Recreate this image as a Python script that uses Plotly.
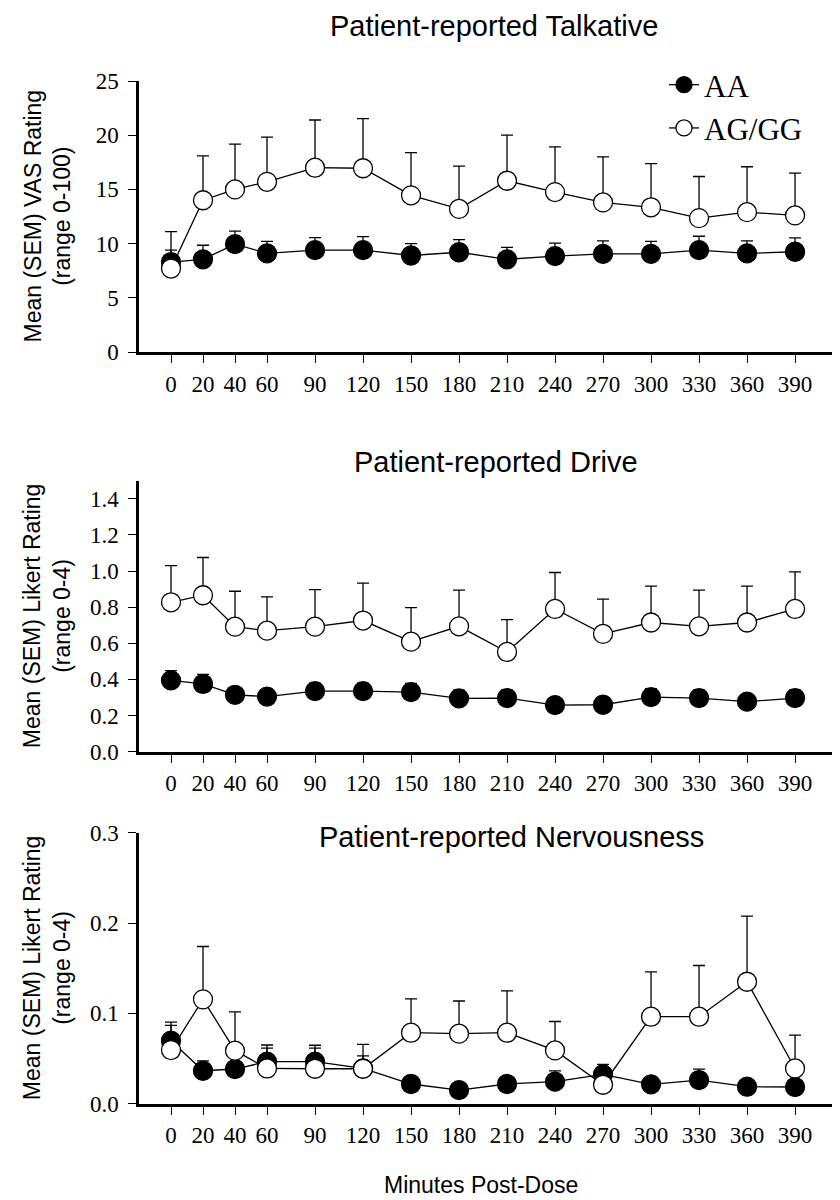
import plotly.graph_objects as go

minutes = [0, 20, 40, 60, 90, 120, 150, 180, 210, 240, 270, 300, 330, 360, 390]
tick_labels = [str(m) for m in minutes]

# Talkative (VAS 0-100)
talk_aa = [8.3, 8.55, 9.95, 9.1, 9.4, 9.4, 8.9, 9.2, 8.55, 8.85, 9.05, 9.05, 9.4, 9.1, 9.25]
talk_aa_sem = [1.1, 1.3, 1.2, 1.1, 1.15, 1.25, 1.1, 1.17, 1.1, 1.2, 1.2, 1.15, 1.28, 1.16, 1.27]
talk_ag = [7.7, 14.0, 15.0, 15.7, 17.0, 16.95, 14.45, 13.2, 15.8, 14.75, 13.8, 13.35, 12.35, 12.9, 12.6]
talk_ag_sem = [3.4, 4.1, 4.17, 4.13, 4.4, 4.57, 3.95, 3.95, 4.2, 4.18, 4.2, 4.02, 3.84, 4.19, 3.9]

# Drive (Likert 0-4)
drive_aa = [0.395, 0.375, 0.315, 0.305, 0.335, 0.335, 0.33, 0.295, 0.297, 0.258, 0.26, 0.302, 0.297, 0.277, 0.297]
drive_aa_sem = [0.054, 0.053, 0.04, 0.04, 0.045, 0.045, 0.048, 0.045, 0.045, 0.04, 0.04, 0.047, 0.045, 0.04, 0.045]
drive_ag = [0.827, 0.866, 0.692, 0.67, 0.692, 0.726, 0.609, 0.694, 0.552, 0.79, 0.652, 0.715, 0.694, 0.715, 0.79]
drive_ag_sem = [0.203, 0.209, 0.196, 0.187, 0.205, 0.207, 0.189, 0.2, 0.179, 0.202, 0.192, 0.201, 0.2, 0.201, 0.205]

# Nervousness (Likert 0-4)
nerv_aa = [0.0697, 0.0365, 0.0384, 0.0465, 0.0465, 0.039, 0.0218, 0.0151, 0.0218, 0.0244, 0.0325, 0.0214, 0.0262, 0.0188, 0.0185]
nerv_aa_sem = [0.017, 0.011, 0.008, 0.015, 0.015, 0.014, 0.006, 0.005, 0.006, 0.012, 0.011, 0.006, 0.012, 0.005, 0.005]
nerv_ag = [0.0594, 0.1155, 0.0587, 0.039, 0.0387, 0.0387, 0.0786, 0.0775, 0.0786, 0.059, 0.021, 0.0963, 0.0963, 0.135, 0.039]
nerv_ag_sem = [0.031, 0.0585, 0.043, 0.026, 0.026, 0.027, 0.0374, 0.0362, 0.0464, 0.032, 0.012, 0.0497, 0.0567, 0.0727, 0.037]

panels = [
    ("Patient-reported Talkative", talk_aa, talk_aa_sem, talk_ag, talk_ag_sem),
    ("Patient-reported Drive", drive_aa, drive_aa_sem, drive_ag, drive_ag_sem),
    ("Patient-reported Nervousness", nerv_aa, nerv_aa_sem, nerv_ag, nerv_ag_sem),
]

# The page body adds an 8px offset, so the figure is 8px smaller and coordinates shift by 8.
OFF = 8
W, H = 840 - OFF, 1200 - OFF
def fx(p):
    return (p - OFF) / W
def fy(p):
    return 1 - (p - OFF) / H

y_domains = [(fy(352), fy(81)), (fy(751.7), fy(480.7)), (fy(1103.7), fy(832.7))]
y_ranges = [[0, 25], [0, 1.5], [0, 0.3]]
y_ticks = [[0, 5, 10, 15, 20, 25], [0, 0.2, 0.4, 0.6, 0.8, 1.0, 1.2, 1.4], [0, 0.1, 0.2, 0.3]]
y_fmt = ["d", ".1f", ".1f"]
y_titles = ["Mean (SEM) VAS Rating<br>(range 0-100)",
            "Mean (SEM) Likert Rating<br>(range 0-4)",
            "Mean (SEM) Likert Rating<br>(range 0-4)"]
title_pos = [(494, 26), (496, 462), (511, 837)]

fig = go.Figure()
LW = 1.3
serif = "Liberation Serif, Times New Roman, serif"
sans = "Liberation Sans, Arial, sans-serif"

for i, (title, aa, aa_sem, ag, ag_sem) in enumerate(panels):
    xa = "x" if i == 0 else f"x{i+1}"
    ya = "y" if i == 0 else f"y{i+1}"
    fig.add_trace(go.Scatter(
        x=minutes, y=aa, name="AA", mode="lines+markers", xaxis=xa, yaxis=ya,
        line=dict(color="black", width=LW),
        marker=dict(size=19, color="black", line=dict(color="black", width=LW)),
        error_y=dict(type="data", array=aa_sem, arrayminus=[0] * len(aa_sem),
                     symmetric=False, color="black", thickness=LW, width=6),
        showlegend=(i == 0), cliponaxis=False,
    ))
    fig.add_trace(go.Scatter(
        x=minutes, y=ag, name="AG/GG", mode="lines+markers", xaxis=xa, yaxis=ya,
        line=dict(color="black", width=LW),
        marker=dict(size=19, color="white", line=dict(color="black", width=LW)),
        error_y=dict(type="data", array=ag_sem, arrayminus=[0] * len(ag_sem),
                     symmetric=False, color="black", thickness=LW, width=6),
        showlegend=(i == 0), cliponaxis=False,
    ))

layout = dict(
    template="none",
    width=W, height=H, margin=dict(l=0, r=0, t=0, b=0, pad=0, autoexpand=False),
    plot_bgcolor="white", paper_bgcolor="white",
    legend=dict(x=fx(664), y=fy(58), xanchor="left", yanchor="top",
                font=dict(family=serif, size=31, color="black"),
                bgcolor="rgba(0,0,0,0)", borderwidth=0),
    annotations=[],
)

for i in range(3):
    xk = "xaxis" if i == 0 else f"xaxis{i+1}"
    yk = "yaxis" if i == 0 else f"yaxis{i+1}"
    ya = "y" if i == 0 else f"y{i+1}"
    xa = "x" if i == 0 else f"x{i+1}"
    layout[xk] = dict(
        domain=[fx(139), 1.0], anchor=ya, range=[-20, 418.1],
        tickmode="array", tickvals=minutes, ticktext=tick_labels,
        ticks="outside", ticklen=8, tickwidth=1, tickcolor="black",
        showline=True, linewidth=3, linecolor="black", showgrid=False, zeroline=False,
        tickfont=dict(family=serif, size=23, color="black"), ticklabelstandoff=1,
        automargin=False,
    )
    layout[yk] = dict(
        domain=list(y_domains[i]), anchor=xa, range=y_ranges[i],
        tickmode="array", tickvals=y_ticks[i], tickformat=y_fmt[i],
        ticks="outside", ticklen=8, tickwidth=1, tickcolor="black",
        showline=True, linewidth=2.5, linecolor="black", showgrid=False, zeroline=False,
        tickfont=dict(family=serif, size=23, color="black"), ticklabelstandoff=5,
        automargin=False,
    )
    tx, ty = title_pos[i]
    layout["annotations"].append(dict(
        text=panels[i][0], x=fx(tx), y=fy(ty), xref="paper", yref="paper",
        xanchor="center", yanchor="middle", showarrow=False,
        font=dict(family=sans, size=29, color="black"),
    ))
    d0, d1 = y_domains[i]
    layout["annotations"].append(dict(
        text=y_titles[i], x=fx(47), y=(d0 + d1) / 2, xref="paper", yref="paper",
        xanchor="center", yanchor="middle", showarrow=False, textangle=-90,
        font=dict(family=sans, size=23, color="black"),
    ))

layout["annotations"].append(dict(
    text="Minutes Post-Dose", x=fx(481), y=fy(1185), xref="paper", yref="paper",
    xanchor="center", yanchor="middle", showarrow=False,
    font=dict(family=sans, size=23, color="black"),
))

fig.update_layout(**layout)
fig.write_html("out.html")
